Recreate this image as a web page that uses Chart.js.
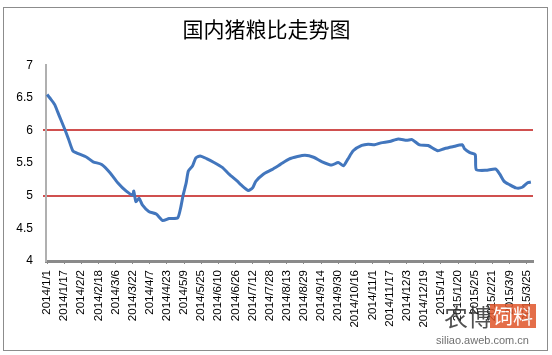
<!DOCTYPE html>
<html>
<head>
<meta charset="utf-8">
<script src="https://cdn.jsdelivr.net/npm/chart.js@4"></script>
<style>
  body { margin: 0; background: #fff; }
  #wrap { position: relative; width: 552px; height: 355px; }
  #frame { position: absolute; left: 3px; top: 7px; width: 543px; height: 342px; border: 1px solid #8c8c8c; pointer-events: none; }
  #mark { position: absolute; left: 430px; top: 302px; width: 115px; height: 48px; font-family: "Noto Sans CJK SC", sans-serif; opacity: 0.85; white-space: nowrap; }
  #mark .nb { position: absolute; left: 14px; top: 0; font-size: 24px; line-height: 28px; color: #333; }
  #mark .sl { position: absolute; left: 60px; top: 2px; font-size: 20px; line-height: 24px; color: #fff; background: #e0552a; padding: 0 3px; }
  #mark .url { position: absolute; left: 6px; top: 32px; font-family: "Liberation Sans", sans-serif; font-size: 11px; color: #555; }
</style>
</head>
<body>
<div id="wrap">
  <canvas id="myChart" width="552" height="355"></canvas>
  <div id="frame"></div>
  <div id="mark"><span class="nb">农博</span><span class="sl">饲料</span><span class="url">siliao.aweb.com.cn</span></div>
</div>
<script>
// day offset from 2014/1/1 and the pig/grain ratio on that day
const days = [0, 3, 7, 10, 13, 17, 20, 24, 27, 37, 43, 51, 59, 66, 74, 80, 81, 83, 86, 89,
    95, 102, 108, 114, 122, 125, 127, 130, 132, 136, 139, 143, 149, 156, 164, 170, 178, 181, 188, 192,
    195, 202, 210, 218, 226, 234, 241, 249, 257, 266, 272, 277, 281, 286, 294, 300, 306, 312, 320, 328,
    336, 341, 348, 356, 365, 371, 379, 388, 390, 395, 400, 401, 410, 419, 423, 427, 432, 438, 444, 449, 452];
const ratios = [6.55, 6.49, 6.40, 6.28, 6.16, 6.00, 5.87, 5.69, 5.66, 5.59, 5.52, 5.48, 5.35, 5.20, 5.07, 5.01, 5.07, 4.91, 4.96, 4.86,
    4.76, 4.72, 4.62, 4.65, 4.66, 4.83, 5.00, 5.20, 5.38, 5.46, 5.58, 5.61, 5.57, 5.51, 5.43, 5.33, 5.22, 5.17, 5.08, 5.12,
    5.22, 5.33, 5.40, 5.48, 5.56, 5.60, 5.62, 5.59, 5.52, 5.47, 5.51, 5.46, 5.56, 5.69, 5.77, 5.79, 5.78, 5.81, 5.83, 5.87,
    5.85, 5.86, 5.78, 5.77, 5.69, 5.72, 5.75, 5.78, 5.72, 5.66, 5.63, 5.40, 5.39, 5.41, 5.33, 5.22, 5.17, 5.12, 5.13, 5.20, 5.21];

const tickLabels = [
    "2014/1/1", "2014/1/17", "2014/2/2", "2014/2/18", "2014/3/6", "2014/3/22", "2014/4/7", "2014/4/23",
    "2014/5/9", "2014/5/25", "2014/6/10", "2014/6/26", "2014/7/12", "2014/7/28", "2014/8/13", "2014/8/29",
    "2014/9/14", "2014/9/30", "2014/10/16", "2014/11/1", "2014/11/17", "2014/12/3", "2014/12/19", "2015/1/4",
    "2015/1/20", "2015/2/5", "2015/2/21", "2015/3/9", "2015/3/25"
];
const tickStep = 16; // days between labels
const refLines = [5, 6];

function drawChart() {
    const ctx = document.getElementById("myChart").getContext("2d");
    const points = days.map((d, i) => ({ x: d, y: ratios[i] }));

    new Chart(ctx, {
        type: 'line',
        data: {
            datasets: [{
                data: points,
                borderColor: '#4276bd',
                borderWidth: 3,
                pointRadius: 0,
                tension: 0.2,
                fill: false
            }]
        },
        options: {
            responsive: false,
            animation: false,
            layout: { padding: { left: 0, right: 19, top: 0, bottom: 0 } },
            plugins: {
                legend: { display: false },
                tooltip: { enabled: false },
                title: {
                    display: true,
                    text: '国内猪粮比走势图',
                    color: '#000',
                    font: { family: '"Noto Sans CJK SC", sans-serif', size: 21, weight: 'normal', lineHeight: 1.2 },
                    padding: { top: 16, bottom: 24 }
                }
            },
            scales: {
                x: {
                    type: 'linear',
                    min: -1,
                    max: 454,
                    afterBuildTicks: function(scale) {
                        scale.ticks = tickLabels.map((_, i) => ({ value: i * tickStep }));
                    },
                    afterFit: function(scale) { scale.height = 94; },
                    border: { color: '#8a8a8a', width: 3 },
                    grid: { drawOnChartArea: false, color: '#8a8a8a', tickLength: 3 },
                    ticks: {
                        autoSkip: false,
                        maxRotation: 90,
                        minRotation: 90,
                        padding: 6,
                        color: '#000',
                        font: { family: '"Liberation Sans", Arial, sans-serif', size: 11.5 },
                        callback: function(value) { return tickLabels[Math.round(value / tickStep)]; }
                    }
                },
                y: {
                    min: 4,
                    max: 7,
                    afterFit: function(scale) { scale.width = 46; },
                    border: { color: '#b0b0b0', width: 2 },
                    grid: {
                        color: c => refLines.includes(c.tick.value) ? '#d0504f' : 'rgba(0,0,0,0)',
                        lineWidth: 2,
                        tickLength: 3
                    },
                    ticks: {
                        stepSize: 0.5,
                        padding: 10,
                        color: '#000',
                        font: { family: '"Liberation Sans", Arial, sans-serif', size: 12 },
                        callback: v => String(v)
                    }
                }
            }
        }
    });
}

window.onload = function() {
    drawChart();
};
</script>
</body>
</html>
